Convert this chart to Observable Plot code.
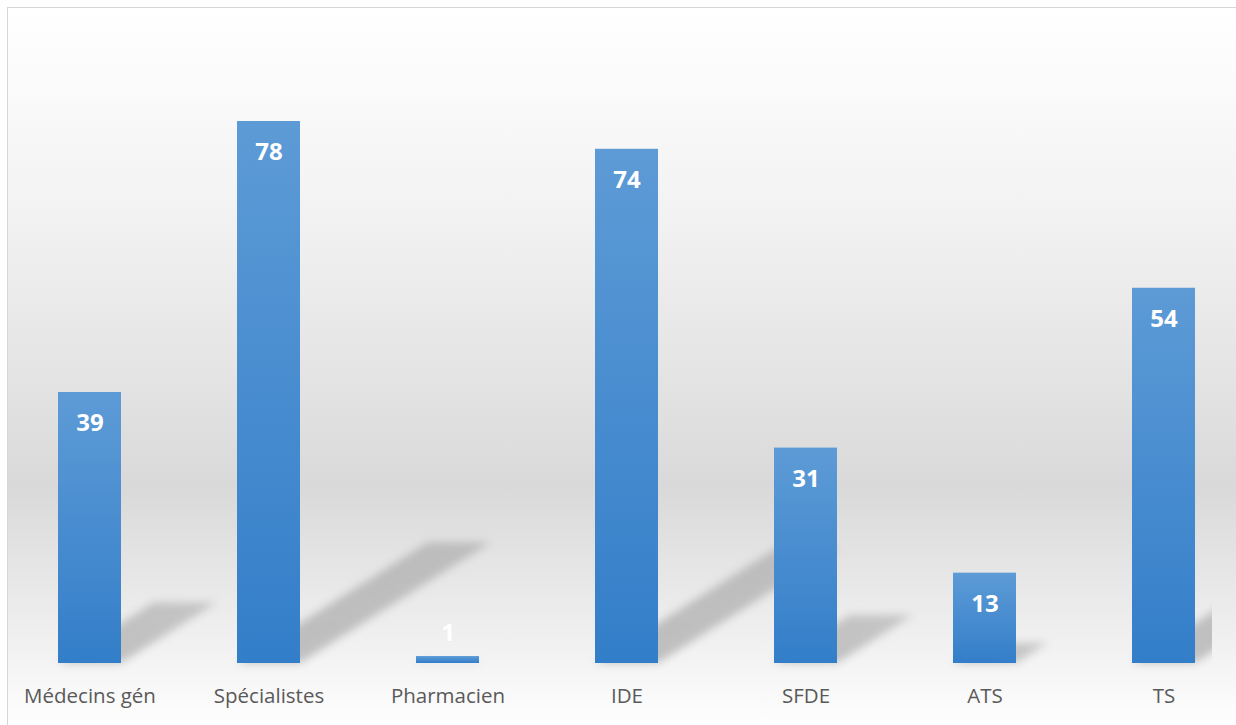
<!DOCTYPE html>
<html>
<head>
<meta charset="utf-8">
<script src="https://cdn.jsdelivr.net/npm/d3@7"></script>
<script src="https://cdn.jsdelivr.net/npm/@observablehq/plot@0.6"></script>
<style>
  html, body { margin: 0; padding: 0; background: #ffffff; overflow: hidden; }
  #bg {
    position: absolute; left: 7px; top: 7px; width: 1240px; height: 725px;
    border-left: 1.5px solid #d6d6d6; border-top: 1.5px solid #d6d6d6;
    background: linear-gradient(to bottom, #ffffff 0%, #fbfbfb 10%, #f1f1f1 30%, #e3e3e3 52%, #d9d9d9 66%, #e4e4e4 76%, #f1f1f1 88%, #fcfcfc 97%, #ffffff 100%);
  }
  #chart { position: absolute; left: 0; top: 0; }
</style>
</head>
<body>
<div id="bg"></div>
<div id="chart"></div>
<script>
const categories = ["Médecins gén", "Spécialistes", "Pharmacien", "IDE", "SFDE", "ATS", "TS"];
const values = [39, 78, 1, 74, 31, 13, 54];

const data = categories.map((c, i) => ({category: c, value: values[i]}));
const SVGNS = "http://www.w3.org/2000/svg";

function el(name, attrs) {
  const e = document.createElementNS(SVGNS, name);
  for (const k in attrs) e.setAttribute(k, attrs[k]);
  return e;
}

// Decorative floor shadows, computed from the data via Plot's scales
function shadows(index, scales) {
  const g = el("g", {});
  const defs = el("defs", {});
  const f = el("filter", {id: "shBlur", x: "-20%", y: "-20%", width: "140%", height: "140%"});
  f.appendChild(el("feGaussianBlur", {stdDeviation: "4.5"}));
  defs.appendChild(f);
  const lg = el("linearGradient", {id: "barGrad", x1: "0", y1: "0", x2: "0", y2: "1"});
  lg.appendChild(el("stop", {offset: "0%", "stop-color": "#5d9bd6"}));
  lg.appendChild(el("stop", {offset: "100%", "stop-color": "#337ec9"}));
  defs.appendChild(lg);
  const sg = el("linearGradient", {id: "shGrad", x1: "0", y1: "1", x2: "1", y2: "0"});
  sg.appendChild(el("stop", {offset: "0%", "stop-color": "#000", "stop-opacity": "0.22"}));
  sg.appendChild(el("stop", {offset: "100%", "stop-color": "#000", "stop-opacity": "0.16"}));
  defs.appendChild(sg);
  const cp = el("clipPath", {id: "shClip"});
  cp.appendChild(el("rect", {x: 0, y: 0, width: 1212, height: 725}));
  defs.appendChild(cp);
  g.appendChild(defs);
  const inner = el("g", {"clip-path": "url(#shClip)", filter: "url(#shBlur)"});
  const bw = scales.x.bandwidth();
  const yb = scales.y(0);
  for (const d of data) {
    const x0 = scales.x(d.category);
    const h = yb - scales.y(d.value);
    const dx = 0.352 * h, dy = 0.223 * h;
    const pts = [[x0, yb], [x0 + bw, yb], [x0 + bw + dx, yb - dy], [x0 + dx, yb - dy]];
    inner.appendChild(el("polygon", {points: pts.map(p => p.join(",")).join(" "), fill: "url(#shGrad)"}));
  }
  g.appendChild(inner);
  return g;
}

const chart = Plot.plot({
  width: 1236,
  height: 725,
  marginLeft: 57,
  marginRight: 40,
  marginTop: 121,
  marginBottom: 62,
  style: {background: "transparent", fontFamily: "'Open Sans', sans-serif", overflow: "visible"},
  x: {domain: categories, paddingInner: 0.649, paddingOuter: 0},
  y: {domain: [0, 78], axis: null},
  marks: [
    shadows,
    Plot.barY(data, {x: "category", y: "value", fill: "url(#barGrad)"}),
    Plot.text(data.filter(d => d.value >= 10), {x: "category", y: "value", text: d => String(d.value), dy: 31, fill: "white", fontSize: 24, fontWeight: 700}),
    Plot.text(data.filter(d => d.value < 10), {x: "category", y: "value", text: d => String(d.value), dy: -23, fill: "white", fontSize: 24, fontWeight: 700}),
    Plot.axisX({tickSize: 0, tickPadding: 24.5, fontSize: 20.5, color: "#595959", label: null})
  ]
});
chart.style.background = "transparent";
document.getElementById("chart").appendChild(chart);
</script>
</body>
</html>
